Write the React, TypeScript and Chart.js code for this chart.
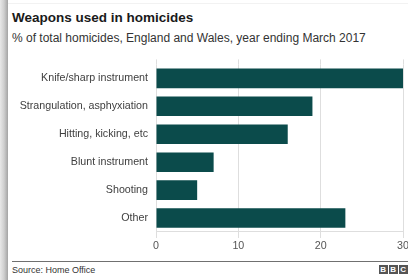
import React, { useEffect, useRef } from "react";
import { Chart, registerables } from "chart.js";

Chart.register(...registerables);

const categories = [
  "Knife/sharp instrument",
  "Strangulation, asphyxiation",
  "Hitting, kicking, etc",
  "Blunt instrument",
  "Shooting",
  "Other",
];
const values = [30, 19, 16, 7, 5, 23];
const xTickValues = [0, 10, 20, 30];
const titleText = "Weapons used in homicides";
const subtitleText = "% of total homicides, England and Wales, year ending March 2017";
const sourceText = "Source: Home Office";
const logoLetters = ["B", "B", "C"];

const FONT = "'Liberation Sans', Arial, Helvetica, sans-serif";
const GRID = "#dedede";
const BAR = "#0b4b4b";

const gridTopExt = {
  id: "gridTopExt",
  beforeDatasetsDraw(chart: any) {
    const { ctx, chartArea, scales } = chart;
    const x = scales.x;
    ctx.save();
    ctx.strokeStyle = GRID;
    ctx.lineWidth = 1;
    x.ticks.forEach((t: any) => {
      const p = x.getPixelForValue(t.value);
      const px = Math.round(p - 0.5) + 0.5;
      ctx.beginPath();
      ctx.moveTo(px, chartArea.top - 5);
      ctx.lineTo(px, chartArea.top);
      ctx.stroke();
    });
    ctx.restore();
  },
};

export default function App() {
  const ref = useRef<HTMLCanvasElement | null>(null);

  useEffect(() => {
    if (!ref.current) return;
    const chart = new Chart(ref.current, {
      type: "bar",
      data: {
        labels: categories,
        datasets: [
          {
            data: values,
            backgroundColor: BAR,
            barPercentage: 0.7,
            categoryPercentage: 1,
          },
        ],
      },
      options: {
        indexAxis: "y",
        responsive: false,
        animation: false,
        layout: { padding: { left: 0, right: 17, top: 9.8, bottom: 0 } },
        plugins: {
          legend: { display: false },
          tooltip: { enabled: false },
          title: { display: false },
        },
        scales: {
          x: {
            min: 0,
            max: 30,
            afterBuildTicks: (s: any) => {
              s.ticks = xTickValues.map((v) => ({ value: v }));
            },
            afterFit: (s: any) => {
              s.height = 28;
            },
            grid: { color: GRID, tickLength: 6, drawTicks: true },
            border: { color: GRID },
            ticks: {
              font: { family: FONT, size: 10.7 },
              color: "#555555",
              padding: 2,
            },
          },
          y: {
            afterFit: (s: any) => {
              s.width = 156;
            },
            grid: { display: false, drawTicks: false },
            border: { display: false },
            ticks: {
              font: { family: FONT, size: 10.7 },
              color: "#404040",
              padding: 8,
            },
          },
        },
      },
      plugins: [gridTopExt],
    } as any);
    return () => chart.destroy();
  }, []);

  return (
    <div
      style={{
        position: "fixed",
        left: 0,
        top: 0,
        width: 408,
        height: 280,
        overflow: "hidden",
        background: "#ffffff",
        fontFamily: FONT,
      }}
    >
      <div
        style={{
          position: "absolute",
          left: 0,
          top: 0,
          width: 8,
          height: 280,
          background:
            "linear-gradient(to right, #e8e8e8 0px, #cfcfcf 4px, #a9a9a9 7.5px, #ffffff 8px)",
        }}
      />
      <div
        style={{
          position: "absolute",
          left: 8,
          top: 3,
          right: 0,
          height: 1,
          background: "#f2f2f2",
        }}
      />
      <div
        style={{
          position: "absolute",
          left: 12,
          top: 10.6,
          fontSize: 13.5,
          lineHeight: "13.5px",
          fontWeight: "bold",
          color: "#1a1a1a",
          whiteSpace: "nowrap",
        }}
      >
        {titleText}
      </div>
      <div
        style={{
          position: "absolute",
          left: 12,
          top: 32.1,
          fontSize: 12,
          lineHeight: "12px",
          color: "#333333",
          whiteSpace: "nowrap",
        }}
      >
        {subtitleText}
      </div>
      <canvas
        ref={ref}
        width={420}
        height={210}
        style={{ position: "absolute", left: 0, top: 50, width: 420, height: 210, display: "block" }}
      />
      <div
        style={{
          position: "absolute",
          left: 12,
          top: 261,
          right: 0,
          height: 1,
          background: "#707070",
        }}
      />
      <div
        style={{
          position: "absolute",
          left: 12,
          top: 265.7,
          fontSize: 9,
          lineHeight: "9px",
          color: "#333333",
          whiteSpace: "nowrap",
        }}
      >
        {sourceText}
      </div>
      {logoLetters.map((l, i) => (
        <div
          key={i}
          style={{
            position: "absolute",
            left: 379 + i * 10,
            top: 265,
            width: 8.5,
            height: 9,
            background: "#555555",
            color: "#ffffff",
            fontSize: 8,
            lineHeight: "9px",
            fontWeight: "bold",
            textAlign: "center",
          }}
        >
          {l}
        </div>
      ))}
    </div>
  );
}
